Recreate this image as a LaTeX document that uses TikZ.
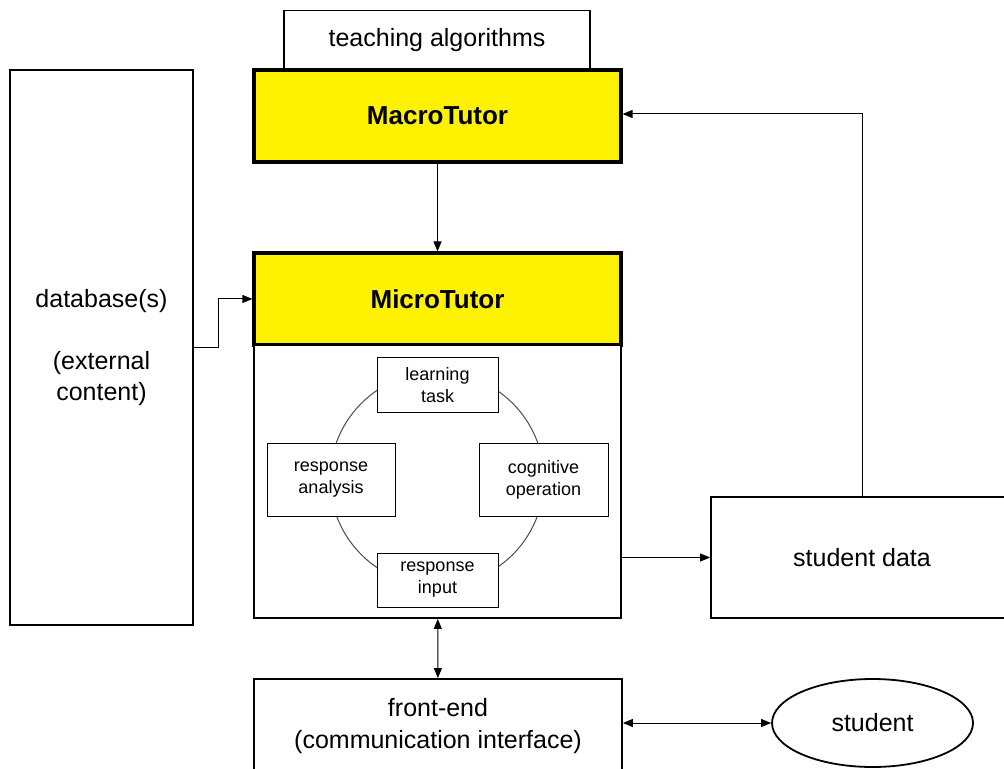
\documentclass[tikz,border=0pt]{standalone}
\usepackage{fontspec}
\setmainfont{Liberation Sans}
\usetikzlibrary{arrows.meta,shapes.geometric}

\tikzset{
	box/.style={draw,line width=0.9pt,fill=white,align=center,inner sep=0pt,
		font=\fontsize{12.5}{16}\selectfont},
	tutor/.style={box,fill=yellow,line width=1.6pt,font=\fontsize{13}{16}\selectfont\bfseries},
	step box/.style={draw,line width=0.5pt,fill=white,align=center,inner sep=0pt,
		font=\fontsize{9}{11}\selectfont},
	link/.style={line width=0.5pt,-{Triangle[length=5pt,width=4pt]}},
	dlink/.style={line width=0.5pt,{Triangle[length=5pt,width=4pt]}-{Triangle[length=5pt,width=4pt]}}
}

\begin{document}
\begin{tikzpicture}[x=0.5pt,y=-0.5pt]
	\useasboundingbox (0,0) rectangle (1004,769);

	% top: algorithms and macro level
	\node[box,minimum width=153pt,minimum height=30pt] (algo) at (437,40.5) {teaching algorithms};
	\node[tutor,minimum width=183.5pt,minimum height=46pt] (macro) at (437.5,116) {MacroTutor};

	% content on the left
	\node[box,minimum width=91.5pt,minimum height=277.5pt,font=\fontsize{12.5}{15.5}\selectfont]
		(db) at (101.5,347.5) {database(s)\\ \\(external\\content)};

	% micro level with its cycle
	\node[tutor,minimum width=183.5pt,minimum height=46pt] (micro) at (437.5,299) {MicroTutor};
	\node[box,minimum width=183.5pt,minimum height=136.5pt] (cycle) at (437.5,481.5) {};
	\draw[line width=0.5pt,black!70] (437,479) circle[radius=53.5pt];
	\node[step box,minimum width=60.5pt,minimum height=27pt] (task) at (437.5,385) {learning\\task};
	\node[step box,minimum width=64.5pt,minimum height=36.5pt] (cogop) at (543.5,479.5) {cognitive\\operation};
	\node[step box,minimum width=60.5pt,minimum height=27pt] (input) at (437.5,580) {response\\input};
	\node[step box,minimum width=64pt,minimum height=36.5pt] (analysis) at (331,479.5) {response\\analysis};

	% student side
	\node[box,minimum width=151pt,minimum height=60.5pt] (sdata) at (862,557.5) {student data};
	\node[box,minimum width=184pt,minimum height=47pt] (front) at (438,726) {front-end\\(communication interface)};
	\node[draw,ellipse,line width=0.9pt,minimum width=100.5pt,minimum height=44pt,inner sep=0pt,
		font=\fontsize{12.5}{15}\selectfont] (student) at (872.5,723) {student};

	% connectors
	\draw[link] (macro) -- (micro);
	\draw[link] (db.east) -- ++(25,0) |- (micro.west);
	\draw[link] (cycle.east |- sdata.west) -- (sdata.west);
	\draw[link] (sdata.north) |- ([yshift=1pt]macro.east);
	\draw[dlink] (cycle) -- (front);
	\draw[dlink] (student.west -| front.east) -- (student.west);
\end{tikzpicture}
\end{document}
